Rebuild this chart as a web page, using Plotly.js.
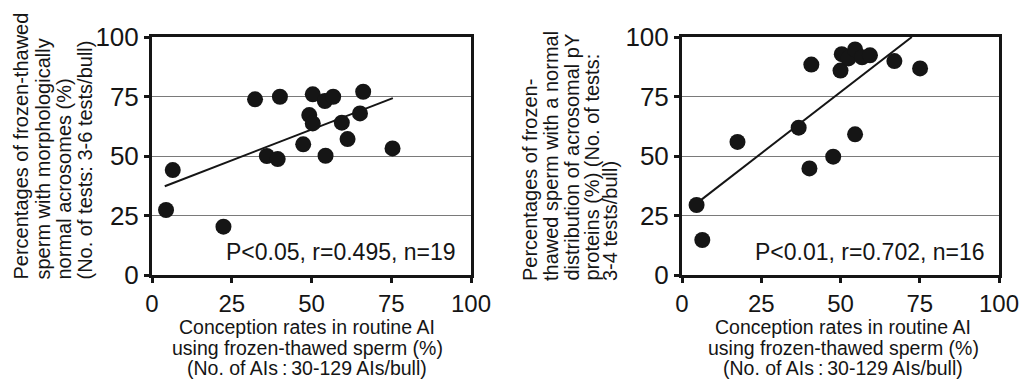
<!DOCTYPE html>
<html>
<head>
<meta charset="utf-8">
<script src="https://cdn.plot.ly/plotly-3.0.1.min.js"></script>
<style>html,body{margin:0;padding:0;background:#fff;}#chart{width:1027px;height:379px;}</style>
</head>
<body>
<div id="chart"></div>
<script>
// ---- data ----
const leftX = [4.4, 6.5, 22.4, 32.3, 40.1, 36.0, 39.4, 47.4, 50.4, 54.2, 56.8, 49.3, 50.4, 54.4, 59.5, 61.3, 65.2, 66.2, 75.4];
const leftY = [27.3, 44.1, 20.3, 73.8, 74.9, 50.0, 48.7, 54.9, 75.9, 73.1, 74.9, 67.2, 63.7, 50.1, 64.0, 57.1, 67.9, 77.0, 53.2];
const leftFitX = [4.0, 75.5];
const leftFitY = [37.3, 74.3];

const rightX = [4.6, 6.4, 17.5, 36.8, 40.2, 40.8, 47.7, 50.0, 50.4, 52.5, 54.6, 56.8, 59.3, 54.6, 67.0, 75.1];
const rightY = [29.4, 14.7, 55.9, 61.9, 44.8, 88.4, 49.7, 85.9, 92.8, 91.0, 94.8, 91.5, 92.3, 59.1, 89.9, 86.8];
const rightFitX = [4.5, 72.5];
const rightFitY = [30.0, 100.0];

const tickVals = [0, 25, 50, 75, 100];
const tickText = ['0', '25', '50', '75', '100'];

const leftStat = 'P<0.05, r=0.495, n=19';
const rightStat = 'P<0.01, r=0.702, n=16';

const xTitleLines = ['Conception rates in routine AI', 'using frozen-thawed sperm (%)', '(No. of AIs\u2009:\u200930-129 AIs/bull)'];
const leftYTitleLines = ['Percentages of frozen-thawed', 'sperm with morphologically', 'normal acrosomes (%)', '(No. of tests: 3-6 tests/bull)'];
const rightYTitleLines = ['Percentages of frozen-', 'thawed sperm with a normal', 'distribution of acrosomal pY', 'proteins (%) (No. of tests:', '3-4 tests/bull)'];

// ---- layout helpers ----
const W = 1027, H = 379;
const px = v => v / W;
const py = v => 1 - v / H;
const FONT = 'Liberation Sans, Arial, Helvetica, sans-serif';
const INK = '#151515';

const markerStyle = {size: 16, color: INK};
const lineStyle = {color: INK, width: 2};

const traces = [
  {x: leftFitX, y: leftFitY, mode: 'lines', line: lineStyle, xaxis: 'x', yaxis: 'y', hoverinfo: 'skip', cliponaxis: false},
  {x: leftX, y: leftY, mode: 'markers', marker: markerStyle, xaxis: 'x', yaxis: 'y', cliponaxis: false},
  {x: rightFitX, y: rightFitY, mode: 'lines', line: lineStyle, xaxis: 'x2', yaxis: 'y2', hoverinfo: 'skip', cliponaxis: false},
  {x: rightX, y: rightY, mode: 'markers', marker: markerStyle, xaxis: 'x2', yaxis: 'y2', cliponaxis: false}
];

function xAxis(d0, d1, anchor) {
  return {
    domain: [px(d0), px(d1)], range: [0, 100], anchor: anchor,
    tickmode: 'array', tickvals: tickVals, ticktext: tickText,
    ticks: 'outside', ticklen: 5, tickwidth: 3, tickcolor: INK,
    showline: true, linewidth: 3, linecolor: INK, mirror: true,
    showgrid: false, zeroline: false,
    tickfont: {family: FONT, size: 24, color: INK}, fixedrange: true
  };
}
function yAxis(anchor) {
  return {
    domain: [py(275), py(37)], range: [0, 100], anchor: anchor,
    tickmode: 'array', tickvals: tickVals, ticktext: tickText,
    ticks: 'outside', ticklen: 5, tickwidth: 3, tickcolor: INK,
    showline: true, linewidth: 3, linecolor: INK, mirror: true,
    showgrid: true, gridcolor: '#7a7a7a', gridwidth: 1, zeroline: false,
    tickfont: {family: FONT, size: 26, color: INK}, fixedrange: true
  };
}

const annotations = [];
function textAnn(text, x, y, opts) {
  annotations.push(Object.assign({
    text: text, xref: 'paper', yref: 'paper', x: px(x), y: py(y),
    showarrow: false, font: {family: FONT, size: 20, color: INK}
  }, opts || {}));
}
// stats
textAnn(leftStat, 458, 252, {xanchor: 'right', yanchor: 'middle', font: {family: FONT, size: 23, color: INK}});
textAnn(rightStat, 987, 252, {xanchor: 'right', yanchor: 'middle', font: {family: FONT, size: 23, color: INK}});
// x titles
const xLineY = [327, 347.5, 368];
const xTitleFont = {family: FONT, size: 19.5, color: INK};
xTitleLines.forEach((t, i) => {
  textAnn(t, 307, xLineY[i], {xanchor: 'center', yanchor: 'middle', font: xTitleFont});
  textAnn(t, 843, xLineY[i], {xanchor: 'center', yanchor: 'middle', font: xTitleFont});
});
// y titles (rotated, bottom aligned)
const leftYCols = [20, 42, 63, 84];
leftYTitleLines.forEach((t, i) => {
  textAnn(t, leftYCols[i], 282, {xanchor: 'center', yanchor: 'bottom', textangle: -90});
});
const rightYCols = [530, 551, 571, 591, 610];
rightYTitleLines.forEach((t, i) => {
  textAnn(t, rightYCols[i], 283, {xanchor: 'center', yanchor: 'bottom', textangle: -90});
});

const layout = {
  width: W, height: H,
  margin: {l: 0, r: 0, t: 0, b: 0},
  paper_bgcolor: '#fff', plot_bgcolor: '#fff',
  showlegend: false,
  font: {family: FONT, color: INK},
  xaxis: xAxis(152, 471, 'y'),
  yaxis: yAxis('x'),
  xaxis2: xAxis(682, 999, 'y2'),
  yaxis2: yAxis('x2'),
  annotations: annotations
};

Plotly.newPlot('chart', traces, layout, {displayModeBar: false, staticPlot: true});
</script>
</body>
</html>
